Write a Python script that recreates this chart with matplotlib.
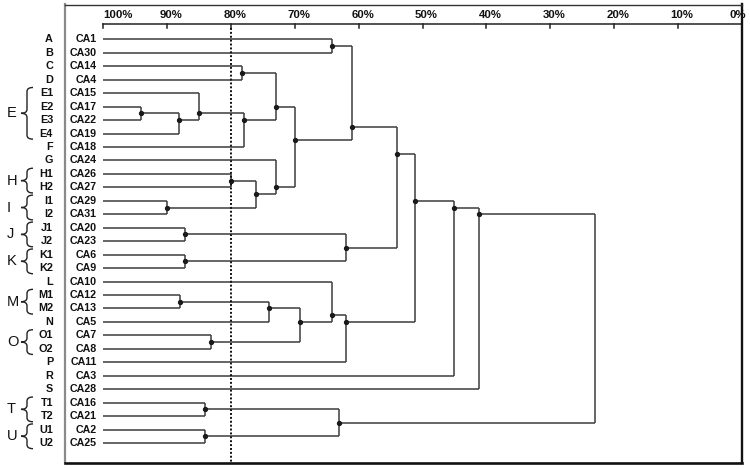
import matplotlib
matplotlib.use("Agg")
import matplotlib.pyplot as plt
from matplotlib.path import Path
from matplotlib.patches import PathPatch
from matplotlib.transforms import blended_transform_factory

# ---------------- data ----------------
leaves = ["CA1", "CA30", "CA14", "CA4", "CA15", "CA17", "CA22", "CA19", "CA18", "CA24",
          "CA26", "CA27", "CA29", "CA31", "CA20", "CA23", "CA6", "CA9", "CA10", "CA12",
          "CA13", "CA5", "CA7", "CA8", "CA11", "CA3", "CA28", "CA16", "CA21", "CA2", "CA25"]
codes = ["A", "B", "C", "D", "E1", "E2", "E3", "E4", "F", "G", "H1", "H2", "I1", "I2",
         "J1", "J2", "K1", "K2", "L", "M1", "M2", "N", "O1", "O2", "P", "R", "S",
         "T1", "T2", "U1", "U2"]

# merges: child ids (0-30 = leaves, 31+k = k-th merge) and similarity (%)
merge_left = [5, 31, 4, 33, 2, 35, 10, 12, 37, 9, 36, 0, 42, 14, 16, 44, 43,
              19, 48, 22, 49, 18, 52, 47, 54, 55, 27, 29, 57, 56]
merge_right = [6, 7, 32, 8, 3, 34, 11, 13, 38, 39, 40, 1, 41, 15, 17, 45, 46,
               20, 21, 23, 50, 51, 24, 53, 25, 26, 28, 30, 58, 59]
merge_sim = [94.1, 88.1, 85.0, 78.0, 78.2, 73.0, 80.0, 90.0, 76.1, 73.0, 70.0, 64.1,
             61.1, 87.1, 87.1, 62.0, 54.0, 88.0, 74.1, 83.1, 69.2, 64.1, 62.0, 51.1,
             45.0, 41.1, 84.1, 84.1, 63.0, 23.0]

tick_values = [100, 90, 80, 70, 60, 50, 40, 30, 20, 10, 0]
tick_labels = ["100%", "90%", "80%", "70%", "60%", "50%", "40%", "30%", "20%", "10%", "0%"]
cutoff = 80

brace_groups = ["E", "H", "I", "J", "K", "M", "O", "T", "U"]
brace_first = [4, 10, 12, 14, 16, 19, 22, 27, 29]
brace_last = [7, 11, 13, 15, 17, 20, 23, 28, 30]

# ---------------- figure ----------------
W, H = 750, 469
fig = plt.figure(figsize=(W / 100, H / 100), dpi=100)
ax = fig.add_axes([65 / W, 1 - 462.5 / H, 677 / W, 458 / H])
ax.set_xlim(105.947, 0)
ax.set_ylim(31.448, -2.586)
ax.set_xticks([])
ax.set_yticks([])
for side, col, lw in [("left", "#8a8a8a", 1.6), ("top", "#333333", 1.0),
                      ("right", "#111111", 1.7), ("bottom", "#111111", 1.9)]:
    ax.spines[side].set_color(col)
    ax.spines[side].set_linewidth(lw)

LC = "#3c3c3c"
LW = 1.1

# node positions
n_leaf = len(leaves)
node_x = [100.0] * n_leaf
node_y = [float(i) for i in range(n_leaf)]
node_n = [1] * n_leaf
for a, b, s in zip(merge_left, merge_right, merge_sim):
    n = node_n[a] + node_n[b]
    node_x.append(s)
    node_y.append((node_n[a] * node_y[a] + node_n[b] * node_y[b]) / n)
    node_n.append(n)

for k, (a, b, s) in enumerate(zip(merge_left, merge_right, merge_sim)):
    for c in (a, b):
        ax.plot([node_x[c], s], [node_y[c], node_y[c]], color=LC, lw=LW,
                solid_capstyle="butt", zorder=2)
    ax.plot([s, s], [node_y[a], node_y[b]], color=LC, lw=LW,
            solid_capstyle="butt", zorder=2)
    if k < len(merge_sim) - 1:
        ax.plot([s], [node_y[n_leaf + k]], "o", color="#1a1a1a", ms=2.8, zorder=3)

# top scale
axis_row = -1.137
tick_end = -0.84
ax.plot([100, 0], [axis_row, axis_row], color="#222222", lw=1.1, clip_on=False)
for v in tick_values:
    ax.plot([v, v], [axis_row, tick_end], color="#222222", lw=1.1)
for i, (v, t) in enumerate(zip(tick_values, tick_labels)):
    off = 15 if i == 0 else (-4 if i == len(tick_values) - 1 else 4)
    ax.annotate(t, (v, -1.84), xytext=(off, 0), textcoords="offset pixels",
                ha="center", va="center", fontsize=8.2, fontweight="bold",
                family="Liberation Sans", color="#111111", annotation_clip=False)

# cutoff line
ax.plot([cutoff, cutoff], [tick_end, 31.448], color="#111111", lw=1.4,
        linestyle=(0, (1, 1)), zorder=4)

# leaf labels
for i, (lab, code) in enumerate(zip(leaves, codes)):
    ax.annotate(lab, (100, i), xytext=(-6, 0), textcoords="offset pixels",
                ha="right", va="center", fontsize=7.7, fontweight="bold",
                family="Liberation Sans", color="#111111", annotation_clip=False)
    ax.annotate(code, (100, i), xytext=(-50, 0), textcoords="offset pixels",
                ha="right", va="center", fontsize=7.8, fontweight="bold",
                family="Liberation Sans", color="#111111", annotation_clip=False)

# braces and group letters
bt = blended_transform_factory(fig.transFigure, ax.transData)
x_r, x_m, x_t = 33 / W, 27 / W, 21 / W
for g, f, l in zip(brace_groups, brace_first, brace_last):
    yt, yb, yc, r = f - 0.42, l + 0.42, (f + l) / 2, 0.3
    verts = [(x_r, yt), (x_m, yt), (x_m, yt + r), (x_m, yc - r), (x_m, yc), (x_t, yc),
             (x_m, yc), (x_m, yc + r), (x_m, yb - r), (x_m, yb), (x_r, yb)]
    cds = [Path.MOVETO, Path.CURVE3, Path.CURVE3, Path.LINETO, Path.CURVE3, Path.CURVE3,
           Path.CURVE3, Path.CURVE3, Path.LINETO, Path.CURVE3, Path.CURVE3]
    ax.add_patch(PathPatch(Path(verts, cds), transform=bt, fill=False,
                           edgecolor="#222222", lw=1.0, clip_on=False))
    ax.text(7 / W, yc, g, transform=bt, ha="left", va="center", fontsize=10.5,
            family="Liberation Sans", color="#111111", clip_on=False)

fig.savefig("out.png", dpi=100)
